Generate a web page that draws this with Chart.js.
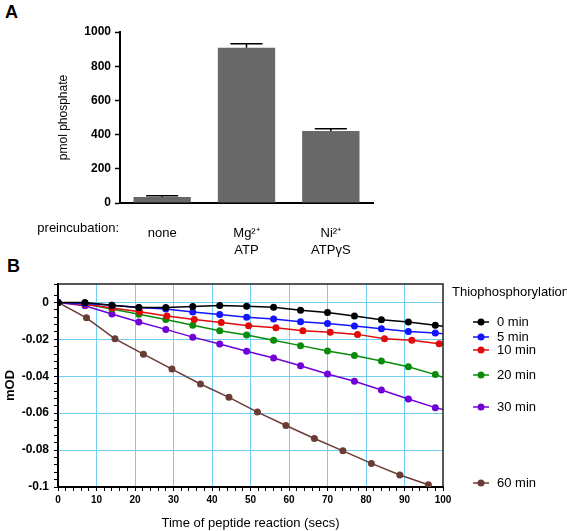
<!DOCTYPE html>
<html>
<head>
<meta charset="utf-8">
<script src="https://cdn.jsdelivr.net/npm/chart.js"></script>
<style>
  html, body { margin: 0; padding: 0; background: #fff; }
  body { width: 567px; height: 531px; position: relative; overflow: hidden; font-family: "Liberation Sans", Arial, sans-serif; }
  .panel { position: absolute; font-weight: bold; font-size: 18px; color: #000; line-height: 1; }
  canvas { position: absolute; left: 0; }
</style>
</head>
<body>
<div class="panel" style="left:5px; top:3px;">A</div>
<div class="panel" style="left:7px; top:257px;">B</div>
<canvas id="phosphateChart" width="567" height="262" style="top:0"></canvas>
<canvas id="thioChart" width="567" height="275" style="top:258px"></canvas>
<script>
// A: 인산화량 막대
const barCategories = ['none', ['Mg²⁺', 'ATP'], ['Ni²⁺', 'ATPγS']];
const barValues = [35, 908, 421];
const barErrors = [7, 23, 13];

// B: 펩타이드 반응 (mOD)
const seriesLabels = ['0 min', '5 min', '10 min', '20 min', '30 min', '60 min'];
const timeSec = [0, 7, 14, 21, 28, 35, 42, 49, 56, 63, 70, 77, 84, 91, 98];
const timeSec10 = [0, 7.1, 14.1, 21.2, 28.3, 35.4, 42.4, 49.5, 56.6, 63.6, 70.7, 77.8, 84.8, 91.9, 99];
const timeSec60 = [0, 7.4, 14.8, 22.2, 29.6, 37, 44.4, 51.8, 59.2, 66.6, 74, 81.4, 88.8, 96.2];
const mOD0 = [0, 0, -0.0015, -0.0027, -0.0028, -0.0022, -0.0016, -0.002, -0.0026, -0.0042, -0.0054, -0.0074, -0.0094, -0.0106, -0.0124];
const mOD5 = [0, -0.0005, -0.0015, -0.0028, -0.0036, -0.0052, -0.0065, -0.008, -0.009, -0.0105, -0.0114, -0.0128, -0.0143, -0.0157, -0.0166];
const mOD10 = [0, -0.001, -0.003, -0.005, -0.0074, -0.0092, -0.0108, -0.0126, -0.0137, -0.0153, -0.0162, -0.0173, -0.0197, -0.0205, -0.0224];
const mOD20 = [0, -0.0008, -0.0035, -0.0064, -0.0092, -0.0124, -0.0153, -0.0176, -0.0205, -0.0234, -0.0263, -0.0287, -0.0317, -0.0348, -0.0391];
const mOD30 = [0, -0.0018, -0.0063, -0.0106, -0.0146, -0.0188, -0.0225, -0.0264, -0.0301, -0.0343, -0.0388, -0.0427, -0.0474, -0.0523, -0.057];
const mOD60 = [0, -0.0083, -0.0197, -0.028, -0.0361, -0.0442, -0.0514, -0.0594, -0.0667, -0.0737, -0.0804, -0.0872, -0.0935, -0.0988];
// 오른쪽 테두리(100초)에서 선이 끝나는 값
const edgeMOD = [-0.0129, -0.017, -0.0226, -0.0405, -0.058, null];
const seriesColors = ['#000000', '#1414ff', '#e00a0a', '#0a8c0a', '#7000d8', '#6b3b36'];

const FONT = '"Liberation Sans", Arial, sans-serif';

function makeSeries(times, values, edge) {
    const pts = times.map((t, i) => ({ x: t, y: values[i] }));
    if (edge !== null) pts.push({ x: 100, y: edge });
    return pts;
}

// 에러바 (위쪽만)
const errorBarPlugin = {
    id: 'errorBars',
    afterDatasetsDraw(chart) {
        const ctx = chart.ctx;
        const yScale = chart.scales.y;
        const meta = chart.getDatasetMeta(0);
        ctx.save();
        ctx.strokeStyle = '#000';
        ctx.lineWidth = 1.5;
        meta.data.forEach((bar, i) => {
            const top = yScale.getPixelForValue(barValues[i] + barErrors[i]);
            const half = bar.width * 0.28;
            ctx.beginPath();
            ctx.moveTo(bar.x, bar.y);
            ctx.lineTo(bar.x, top);
            ctx.moveTo(bar.x - half, top);
            ctx.lineTo(bar.x + half, top);
            ctx.stroke();
        });
        // 카테고리 앞 라벨
        ctx.fillStyle = '#000';
        ctx.font = '13px ' + FONT;
        ctx.textAlign = 'right';
        ctx.textBaseline = 'middle';
        ctx.fillText('preincubation:', 119, 228);
        ctx.restore();
    }
};

function renderPhosphateChart() {
    const ctx = document.getElementById('phosphateChart').getContext('2d');
    new Chart(ctx, {
        type: 'bar',
        data: {
            labels: barCategories,
            datasets: [{
                data: barValues,
                backgroundColor: '#686868',
                barPercentage: 0.68,
                categoryPercentage: 1
            }]
        },
        options: {
            responsive: false,
            animation: false,
            layout: { padding: { left: 56, right: 194, top: 32, bottom: 0 } },
            plugins: { legend: { display: false }, tooltip: { enabled: false } },
            scales: {
                x: {
                    grid: { display: false },
                    border: { color: '#000', width: 2 },
                    ticks: { color: '#000', font: { family: FONT, size: 13, lineHeight: 1.3 }, padding: 14, maxRotation: 0 },
                    afterFit: (s) => { s.height = 59; }
                },
                y: {
                    min: 0,
                    max: 1000,
                    ticks: {
                        stepSize: 200,
                        color: '#000',
                        font: { family: FONT, size: 12, weight: 'bold' },
                        padding: 4,
                        callback: (v) => String(v)
                    },
                    grid: { drawOnChartArea: false, tickLength: 5, tickColor: '#000', tickWidth: 1.5 },
                    border: { color: '#000', width: 2 },
                    title: { display: true, text: 'pmol phosphate', color: '#000', font: { family: FONT, size: 12 }, padding: 0 },
                    afterFit: (s) => { s.width = 64; }
                }
            }
        },
        plugins: [errorBarPlugin]
    });
}

// 테두리 + 범례
const thioDecorPlugin = {
    id: 'thioDecor',
    afterDatasetsDraw(chart) {
        const ctx = chart.ctx;
        const a = chart.chartArea;
        ctx.save();
        ctx.strokeStyle = '#222';
        ctx.lineWidth = 1.5;
        ctx.beginPath();
        ctx.moveTo(a.left, a.top);
        ctx.lineTo(a.right, a.top);
        ctx.lineTo(a.right, a.bottom);
        ctx.stroke();

        ctx.fillStyle = '#000';
        ctx.font = '13px ' + FONT;
        ctx.textAlign = 'left';
        ctx.textBaseline = 'middle';
        ctx.fillText('Thiophosphorylation', 452, 34);
        const itemY = [64, 79, 92, 117, 149, 225];
        chart.data.datasets.forEach((ds, i) => {
            const y = itemY[i];
            ctx.strokeStyle = ds.borderColor;
            ctx.lineWidth = 1.5;
            ctx.beginPath();
            ctx.moveTo(473, y);
            ctx.lineTo(489, y);
            ctx.stroke();
            ctx.fillStyle = ds.borderColor;
            ctx.beginPath();
            ctx.arc(481, y, 3.5, 0, Math.PI * 2);
            ctx.fill();
            ctx.fillStyle = '#000';
            ctx.fillText(ds.label, 497, y);
        });
        ctx.restore();
    }
};

function isMultiple(v, step) {
    const r = v / step;
    return Math.abs(r - Math.round(r)) < 1e-6;
}

function renderThioChart() {
    const ctx = document.getElementById('thioChart').getContext('2d');
    const times = [timeSec, timeSec, timeSec10, timeSec, timeSec, timeSec60];
    const values = [mOD0, mOD5, mOD10, mOD20, mOD30, mOD60];
    new Chart(ctx, {
        type: 'line',
        data: {
            datasets: seriesLabels.map((label, i) => ({
                label: label,
                data: makeSeries(times[i], values[i], edgeMOD[i]),
                borderColor: seriesColors[i],
                backgroundColor: seriesColors[i],
                borderWidth: 1.5,
                pointRadius: (c) => (c.raw && c.raw.x >= 100 ? 0 : 3.5),
                pointBorderWidth: 0,
                fill: false,
                tension: 0
            }))
        },
        options: {
            responsive: false,
            animation: false,
            layout: { padding: { left: 3, right: 124, top: 26, bottom: 0 } },
            plugins: { legend: { display: false }, tooltip: { enabled: false } },
            scales: {
                x: {
                    type: 'linear',
                    min: 0,
                    max: 100,
                    ticks: {
                        stepSize: 2,
                        autoSkip: false,
                        maxRotation: 0,
                        color: '#000',
                        font: { family: FONT, size: 10, weight: 'bold' },
                        padding: 3,
                        callback: (v) => (isMultiple(v, 10) ? String(Math.round(v)) : '')
                    },
                    grid: {
                        color: (c) => (c.tick && isMultiple(c.tick.value, 10) && c.tick.value > 0 && c.tick.value < 100 ? '#6fcff2' : 'rgba(0,0,0,0)'),
                        tickColor: '#000',
                        tickLength: 4
                    },
                    border: { color: '#000', width: 2 },
                    title: { display: true, text: 'Time of peptide reaction (secs)', color: '#000', font: { family: FONT, size: 13 }, padding: { top: 6, bottom: 2 } },
                    afterFit: (s) => { s.height = 46; }
                },
                y: {
                    min: -0.1,
                    max: 0.01,
                    ticks: {
                        stepSize: 0.004,
                        autoSkip: false,
                        color: '#000',
                        font: { family: FONT, size: 12, weight: 'bold' },
                        padding: 5,
                        callback: (v) => {
                            if (!isMultiple(v, 0.02)) return '';
                            const n = Math.round(v / 0.02) * 0.02;
                            return n === 0 ? '0' : String(parseFloat(n.toFixed(2)));
                        }
                    },
                    grid: {
                        color: (c) => (c.tick && isMultiple(c.tick.value, 0.02) && c.tick.value > -0.099 ? '#6fcff2' : 'rgba(0,0,0,0)'),
                        tickColor: '#000',
                        tickLength: 4
                    },
                    border: { color: '#000', width: 2 },
                    title: { display: true, text: 'mOD', color: '#000', font: { family: FONT, size: 13, weight: 'bold' }, padding: 0 },
                    afterFit: (s) => { s.width = 55; }
                }
            }
        },
        plugins: [thioDecorPlugin]
    });
}

renderPhosphateChart();
renderThioChart();
</script>
</body>
</html>
